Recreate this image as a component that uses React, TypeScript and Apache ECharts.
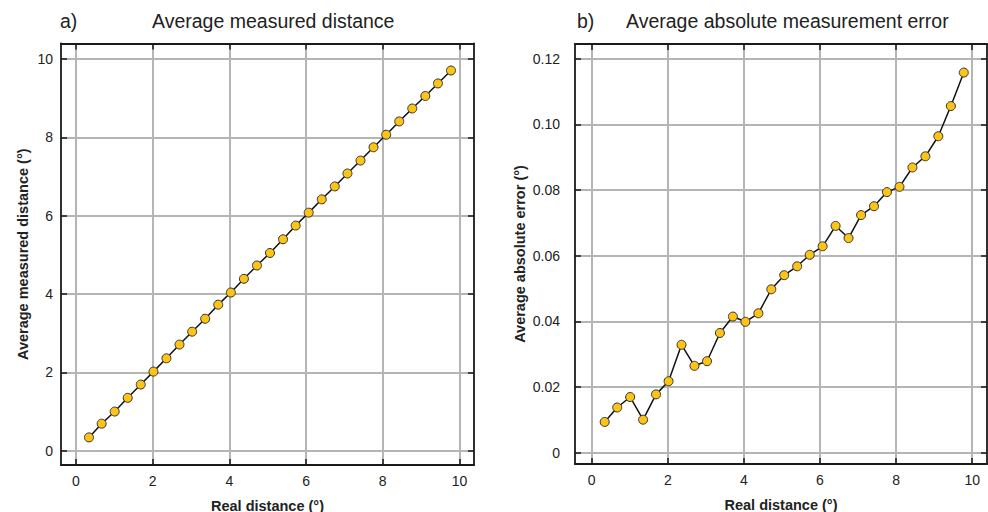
import React, { useEffect, useRef } from "react";
import * as echarts from "echarts";

const realDistance = [0.34, 0.67, 1.01, 1.35, 1.69, 2.02, 2.36, 2.70, 3.03, 3.37, 3.71, 4.04, 4.38, 4.72, 5.06, 5.40, 5.73, 6.07, 6.41, 6.75, 7.08, 7.42, 7.76, 8.09, 8.43, 8.77, 9.11, 9.44, 9.78];
const measuredDistance = [0.34, 0.69, 1.00, 1.35, 1.69, 2.02, 2.36, 2.71, 3.04, 3.37, 3.73, 4.04, 4.39, 4.73, 5.05, 5.40, 5.75, 6.08, 6.42, 6.75, 7.08, 7.41, 7.75, 8.07, 8.41, 8.74, 9.06, 9.38, 9.71];
const absoluteError = [0.0094, 0.0138, 0.0170, 0.0101, 0.0178, 0.0218, 0.0329, 0.0265, 0.0279, 0.0365, 0.0415, 0.0399, 0.0425, 0.0498, 0.0541, 0.0568, 0.0603, 0.0629, 0.0691, 0.0654, 0.0724, 0.0751, 0.0794, 0.0810, 0.0869, 0.0903, 0.0964, 0.1056, 0.1158];

const xTicks = [0, 2, 4, 6, 8, 10];
const yTicksA = [0, 2, 4, 6, 8, 10];
const yTicksB = [0, 0.02, 0.04, 0.06, 0.08, 0.1, 0.12];

const FONT = "'Liberation Sans', Arial, sans-serif";
const TXT = "#222";
const AX = "#1a1a1a";
const GRID = "#b5b5b5";

function axisBase(min: number, max: number, ticks: number[], primary: boolean, extra: any = {}) {
  return {
    type: "value",
    min,
    max,
    axisLine: { show: true, onZero: false, lineStyle: { color: AX, width: 1.8 } },
    axisTick: { show: true, inside: true, length: 6, customValues: ticks, lineStyle: { color: AX, width: 1.5 } },
    axisLabel: primary
      ? { show: true, customValues: ticks, color: TXT, fontSize: 14, fontFamily: FONT, ...(extra.axisLabel || {}) }
      : { show: false },
    splitLine: primary ? { show: true, lineStyle: { color: GRID, width: 2 } } : { show: false },
    ...Object.fromEntries(Object.entries(extra).filter(([k]) => k !== "axisLabel")),
  };
}

const nameStyle = { color: TXT, fontSize: 14.5, fontWeight: "bold", fontFamily: FONT };

export default function App() {
  const ref = useRef<HTMLDivElement>(null);
  useEffect(() => {
    if (!ref.current) return;
    const chart = echarts.init(ref.current, undefined, { renderer: "svg" });
    const xMinA = -0.39, xMaxA = 10.38;
    const yMinA = -0.365, yMaxA = 10.4;
    const xMinB = -0.44, xMaxB = 10.39;
    const yMinB = -0.0034, yMaxB = 0.1245;
    const option: any = {
      animation: false,
      backgroundColor: "#fff",
      grid: [
        { left: 61, top: 43.5, width: 413, height: 421.5, outerBoundsMode: "none", containLabel: false },
        { left: 575, top: 44, width: 412, height: 420, outerBoundsMode: "none", containLabel: false },
      ],
      xAxis: [
        axisBase(xMinA, xMaxA, xTicks, true, {
          gridIndex: 0, position: "bottom", name: "Real distance (°)", nameLocation: "middle", nameGap: 33, nameTextStyle: nameStyle,
          axisLabel: { margin: 9 },
        }),
        axisBase(xMinA, xMaxA, xTicks, false, { gridIndex: 0, position: "top" }),
        axisBase(xMinB, xMaxB, xTicks, true, {
          gridIndex: 1, position: "bottom", name: "Real distance (°)", nameLocation: "middle", nameGap: 33, nameTextStyle: nameStyle,
          axisLabel: { margin: 9 },
        }),
        axisBase(xMinB, xMaxB, xTicks, false, { gridIndex: 1, position: "top" }),
      ],
      yAxis: [
        axisBase(yMinA, yMaxA, yTicksA, true, {
          gridIndex: 0, position: "left", name: "Average measured distance (°)", nameLocation: "middle", nameGap: 31, nameTextStyle: nameStyle,
          axisLabel: { margin: 8 },
        }),
        axisBase(yMinA, yMaxA, yTicksA, false, { gridIndex: 0, position: "right" }),
        axisBase(yMinB, yMaxB, yTicksB, true, {
          gridIndex: 1, position: "left", name: "Average absolute error (°)", nameLocation: "middle", nameGap: 48, nameTextStyle: nameStyle,
          axisLabel: { margin: 15, formatter: (v: number) => (v === 0 ? "0" : v.toFixed(2)) },
        }),
        axisBase(yMinB, yMaxB, yTicksB, false, { gridIndex: 1, position: "right" }),
      ],
      series: [
        {
          type: "line",
          xAxisIndex: 0,
          yAxisIndex: 0,
          data: realDistance.map((x, i) => [x, measuredDistance[i]]),
          symbol: "circle",
          symbolSize: 9,
          lineStyle: { color: "#111", width: 1.5 },
          itemStyle: { color: "#fbc416", borderColor: "#333", borderWidth: 1 },
          z: 5,
        },
        {
          type: "line",
          xAxisIndex: 2,
          yAxisIndex: 2,
          data: realDistance.map((x, i) => [x, absoluteError[i]]),
          symbol: "circle",
          symbolSize: 9,
          lineStyle: { color: "#111", width: 1.5 },
          itemStyle: { color: "#fbc416", borderColor: "#333", borderWidth: 1 },
          z: 5,
        },
      ],
      graphic: [
        { type: "text", left: 60, top: 11, style: { text: "a)", fontSize: 19.5, fontFamily: FONT, fill: TXT } },
        { type: "text", left: 152, top: 11, style: { text: "Average measured distance", fontSize: 19.5, fontFamily: FONT, fill: TXT } },
        { type: "text", left: 577, top: 11, style: { text: "b)", fontSize: 19.5, fontFamily: FONT, fill: TXT } },
        { type: "text", left: 626, top: 11, style: { text: "Average absolute measurement error", fontSize: 19.5, fontFamily: FONT, fill: TXT } },
      ],
    };
    chart.setOption(option);
    return () => chart.dispose();
  }, []);
  return (
    <div
      ref={ref}
      style={{ position: "fixed", left: 0, top: 0, width: 988, height: 512, background: "#fff" }}
    />
  );
}
